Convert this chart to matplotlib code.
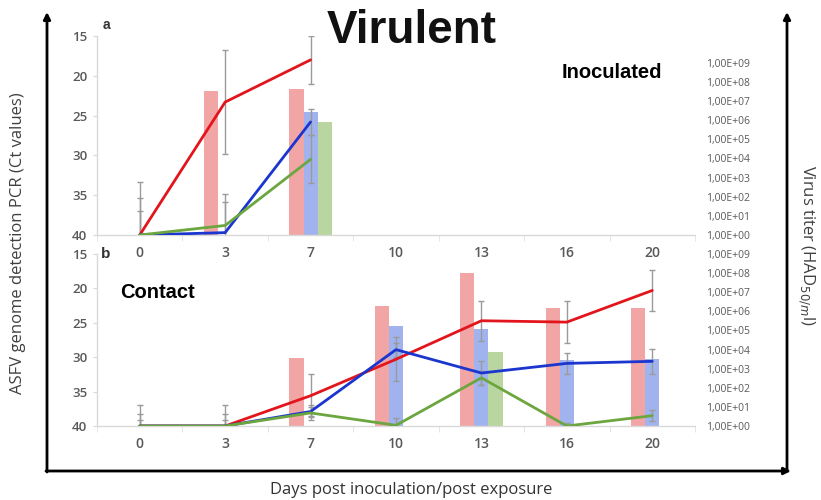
import numpy as np
import matplotlib
matplotlib.use("Agg")
import matplotlib.pyplot as plt

# categories (days)
days = ["0", "3", "7", "10", "13", "16", "20"]

# panel a - inoculated: Ct values (left axis, lines)
a_idx = [0, 1, 2]
a_ct_red = [40, 23.3, 18.0]
a_ct_blue = [40, 39.7, 25.8]
a_ct_green = [40, 38.8, 30.5]
a_err_red = [6.6, 6.5, 3.0]
a_err_blue = [4.7, 4.8, 1.6]
a_err_green = [3.0, 3.0, 3.0]
# panel a - virus titer, log10 HAD50/ml (right axis, bars)
a_tit_red = [0, 7.55, 7.64]
a_tit_blue = [0, 0, 6.43]
a_tit_green = [0, 0, 5.93]

# panel b - contact
b_idx = [0, 1, 2, 3, 4, 5, 6]
b_ct_red = [40, 40, 35.6, 30.3, 24.7, 24.9, 20.3]
b_ct_blue = [40, 40, 37.9, 28.9, 32.3, 30.9, 30.6]
b_ct_green = [40, 40, 38.1, 39.9, 33.0, 40, 38.5]
b_err_red = [3.0, 3.0, 3.1, 3.2, 2.9, 3.0, 3.0]
b_err_blue = [1.8, 1.8, 0.7, 1.0, 1.8, 1.5, 1.8]
b_err_green = [0.8, 0.8, 1.1, 1.1, 1.0, 0.4, 0.8]
b_tit_red = [0, 0, 3.58, 6.28, 8.03, 6.19, 6.19]
b_tit_blue = [0, 0, 0, 5.25, 5.08, 3.46, 3.49]
b_tit_green = [0, 0, 0, 0, 3.89, 0, 0]

ct_ticks = [15, 20, 25, 30, 35, 40]
tit_ticks = list(range(10))
tit_labels = ["1,00E+%02d" % k for k in tit_ticks]

line_cols = ["#e3151c", "#1b35cf", "#6ca63e"]
bar_cols = ["#f2a5a5", "#a0b3ee", "#b9d6a1"]
grey = "#595959"
tick_font = "Open Sans"

W, H = 821, 500
fig = plt.figure(figsize=(W / 100, H / 100), dpi=100)


def px_axes(x0, y0, x1, y1):
    return fig.add_axes([x0 / W, 1 - y1 / H, (x1 - x0) / W, (y1 - y0) / H])


def panel(ax, idx, cts, errs, tits, tmax):
    ax2 = ax.twinx()
    ax.set_zorder(2)
    ax2.set_zorder(1)
    ax.patch.set_visible(False)
    ax2.patch.set_visible(False)
    x = np.arange(len(days))
    w = 0.165
    for k, t in enumerate(tits):
        ax2.bar(np.arange(len(t)) + (k - 1) * w, t, width=w, color=bar_cols[k], zorder=1)
    for k in range(3):
        ax.errorbar(idx, cts[k], yerr=errs[k], fmt="none", ecolor="#9a9a9a",
                    elinewidth=1, capsize=2.5, capthick=1, zorder=2)
    for k in range(3):
        ax.plot(idx, cts[k], color=line_cols[k], lw=2, zorder=3, solid_capstyle="round")
    ax.set_xlim(-0.5, len(days) - 0.5)
    ax.set_ylim(40, 15)
    ax.set_yticks(ct_ticks)
    ax.set_yticklabels([str(v) for v in ct_ticks], fontsize=9.5, color=grey,
                       family=tick_font, fontweight="semibold")
    ax.set_xticks(x)
    ax.set_xticklabels(days, fontsize=10, color=grey, family=tick_font, fontweight="semibold")
    ax.set_xticks(np.arange(len(days) + 1) - 0.5, minor=True)
    ax.tick_params(axis="x", which="major", length=0, pad=8)
    ax.tick_params(axis="x", which="minor", length=4, color="#e2e2e2")
    ax.tick_params(axis="y", length=3, color="#d9d9d9", pad=4)
    for s in ["top", "right"]:
        ax.spines[s].set_visible(False)
    for s in ["left", "bottom"]:
        ax.spines[s].set_color("#d9d9d9")
        ax.spines[s].set_linewidth(1)
    ax2.set_ylim(0, tmax)
    ax2.set_yticks(tit_ticks)
    ax2.set_yticklabels(tit_labels, fontsize=7.5, color=grey, family=tick_font)
    ax2.tick_params(axis="y", length=0, pad=8)
    for s in ax2.spines.values():
        s.set_visible(False)


ax_a = px_axes(97, 36, 695, 235)
panel(ax_a, a_idx, [a_ct_red, a_ct_blue, a_ct_green],
      [a_err_red, a_err_blue, a_err_green], [a_tit_red, a_tit_blue, a_tit_green], 10.4)

ax_b = px_axes(97, 254, 695, 426)
panel(ax_b, b_idx, [b_ct_red, b_ct_blue, b_ct_green],
      [b_err_red, b_err_blue, b_err_green], [b_tit_red, b_tit_blue, b_tit_green], 9.0)

# overlay in pixel coordinates for arrows and free text
ov = fig.add_axes([0, 0, 1, 1], zorder=5)
ov.set_xlim(0, W)
ov.set_ylim(H, 0)
ov.axis("off")
arw = dict(arrowstyle="-|>", lw=2, color="black", mutation_scale=10, shrinkA=0, shrinkB=0)
ov.annotate("", xy=(47, 12), xytext=(47, 472), arrowprops=arw)
ov.annotate("", xy=(791, 471), xytext=(46, 471), arrowprops=arw)
ov.annotate("", xy=(787, 12), xytext=(787, 471), arrowprops=arw)

ov.text(412, 31, "Virulent", fontsize=33, fontweight="bold", family="Liberation Sans",
        ha="center", va="center", color="#111111")
ov.text(612, 73, "Inoculated", fontsize=14.5, fontweight="bold", family="Liberation Sans",
        ha="center", va="center")
ov.text(157, 293, "Contact", fontsize=14.5, fontweight="bold", family="Liberation Sans",
        ha="center", va="center")
ov.text(106, 25, "a", fontsize=10, fontweight="bold", family="Liberation Sans",
        ha="center", va="center", color="#333333")
ov.text(106, 254, "b", fontsize=11, fontweight="bold", family="Liberation Sans",
        ha="center", va="center", color="#333333")
ov.text(18, 243, "ASFV genome detection PCR (Ct values)", rotation=90, fontsize=12,
        family=tick_font, ha="center", va="center", color="#404040")
ov.text(806, 245, "Virus titer (HAD$_{50/m}$l)", rotation=-90, fontsize=12,
        family=tick_font, ha="center", va="center", color="#404040")
ov.text(411, 490, "Days post inoculation/post exposure", fontsize=12,
        family=tick_font, ha="center", va="center", color="#333333")

fig.savefig("out.png", dpi=100)
